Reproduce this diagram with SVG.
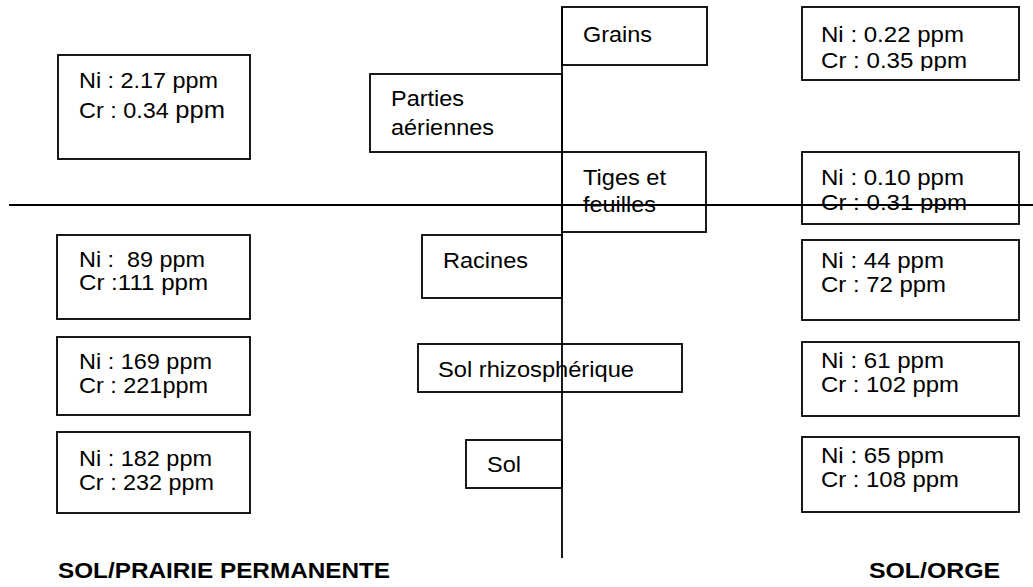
<svg xmlns="http://www.w3.org/2000/svg" width="1033" height="587" viewBox="0 0 1033 587">
<style>
.b{fill:#fff;stroke:#000;stroke-width:1.8}
.t{font-family:"Liberation Sans",Arial,sans-serif;font-size:22.5px;fill:#000}
.h{font-family:"Liberation Sans",Arial,sans-serif;font-size:22px;font-weight:bold;fill:#000}
.ax{stroke:#000;stroke-width:1.8;fill:none}
</style>
<defs>
<clipPath id="c1"><rect x="800" y="0" width="230" height="71"/></clipPath>
<clipPath id="c2"><rect x="800" y="150" width="230" height="63"/></clipPath>
</defs>
<rect width="1033" height="587" fill="#fff"/>
<g id="prairie-parties">
<rect class="b" x="58" y="55" width="192" height="104"/>
<text class="t" x="79" y="88" textLength="139" lengthAdjust="spacingAndGlyphs">Ni : 2.17 ppm</text>
<text class="t" x="79" y="118" textLength="146" lengthAdjust="spacingAndGlyphs">Cr : 0.34 <tspan font-size="24.5">ppm</tspan></text>
</g>
<g id="prairie-racines">
<rect class="b" x="57" y="235" width="193" height="84"/>
<text class="t" x="79" y="267" textLength="126" lengthAdjust="spacingAndGlyphs" xml:space="preserve">Ni :  89 ppm</text>
<text class="t" x="79" y="290" textLength="129" lengthAdjust="spacingAndGlyphs">Cr :111 ppm</text>
</g>
<g id="prairie-rhizo">
<rect class="b" x="57" y="337" width="193" height="78"/>
<text class="t" x="79" y="369" textLength="133" lengthAdjust="spacingAndGlyphs">Ni : 169 ppm</text>
<text class="t" x="79" y="393" textLength="129" lengthAdjust="spacingAndGlyphs">Cr : 221ppm</text>
</g>
<g id="prairie-sol">
<rect class="b" x="57" y="432" width="193" height="81"/>
<text class="t" x="79" y="466" textLength="133" lengthAdjust="spacingAndGlyphs">Ni : 182 ppm</text>
<text class="t" x="79" y="490" textLength="135" lengthAdjust="spacingAndGlyphs">Cr : 232 ppm</text>
</g>
<g id="grains">
<rect class="b" x="562" y="7" width="145" height="58"/>
<text class="t" x="583" y="42" textLength="69" lengthAdjust="spacingAndGlyphs">Grains</text>
</g>
<g id="parties-aeriennes">
<rect class="b" x="370" y="74" width="192" height="78"/>
<text class="t" x="391" y="106" textLength="73" lengthAdjust="spacingAndGlyphs">Parties</text>
<text class="t" x="391" y="135" textLength="103" lengthAdjust="spacingAndGlyphs">aériennes</text>
</g>
<g id="tiges-feuilles">
<rect class="b" x="562" y="152" width="144" height="80"/>
<text class="t" x="583" y="185" textLength="83" lengthAdjust="spacingAndGlyphs">Tiges et</text>
<text class="t" x="583" y="212" textLength="73" lengthAdjust="spacingAndGlyphs">feuilles</text>
</g>
<g id="racines">
<rect class="b" x="422" y="235" width="140" height="63"/>
<text class="t" x="443" y="268" textLength="85" lengthAdjust="spacingAndGlyphs">Racines</text>
</g>
<g id="sol-rhizospherique">
<rect class="b" x="418" y="344" width="264" height="48"/>
<text class="t" x="438" y="377" textLength="196" lengthAdjust="spacingAndGlyphs">Sol rhizosphérique</text>
</g>
<g id="sol">
<rect class="b" x="466" y="440" width="96" height="48"/>
<text class="t" x="487" y="472" textLength="34" lengthAdjust="spacingAndGlyphs">Sol</text>
</g>
<g id="orge-grains">
<rect class="b" x="802" y="7" width="217" height="73"/>
<text class="t" x="821" y="42" textLength="143" lengthAdjust="spacingAndGlyphs">Ni : 0.22 ppm</text>
<text class="t" x="821" y="68" textLength="146" lengthAdjust="spacingAndGlyphs" clip-path="url(#c1)">Cr : 0.35 ppm</text>
</g>
<g id="orge-tiges">
<rect class="b" x="802" y="152" width="217" height="72"/>
<text class="t" x="821" y="185" textLength="143" lengthAdjust="spacingAndGlyphs">Ni : 0.10 ppm</text>
<text class="t" x="821" y="210" textLength="146" lengthAdjust="spacingAndGlyphs" clip-path="url(#c2)">Cr : 0.31 ppm</text>
</g>
<g id="orge-racines">
<rect class="b" x="802" y="240" width="217" height="80"/>
<text class="t" x="821" y="268" textLength="123" lengthAdjust="spacingAndGlyphs">Ni : 44 ppm</text>
<text class="t" x="821" y="292" textLength="125" lengthAdjust="spacingAndGlyphs">Cr : 72 ppm</text>
</g>
<g id="orge-rhizo">
<rect class="b" x="802" y="342" width="217" height="74"/>
<text class="t" x="821" y="368" textLength="123" lengthAdjust="spacingAndGlyphs">Ni : 61 ppm</text>
<text class="t" x="821" y="392" textLength="138" lengthAdjust="spacingAndGlyphs">Cr : 102 ppm</text>
</g>
<g id="orge-sol">
<rect class="b" x="802" y="437" width="217" height="75"/>
<text class="t" x="821" y="463" textLength="123" lengthAdjust="spacingAndGlyphs">Ni : 65 ppm</text>
<text class="t" x="821" y="487" textLength="138" lengthAdjust="spacingAndGlyphs">Cr : 108 ppm</text>
</g>
<g id="titres">
<text class="h" x="58" y="578" textLength="332" lengthAdjust="spacingAndGlyphs">SOL/PRAIRIE PERMANENTE</text>
<text class="h" x="869" y="578" textLength="131" lengthAdjust="spacingAndGlyphs">SOL/ORGE</text>
</g>
<g id="connectors">
<line class="ax" x1="9" y1="205" x2="1033" y2="205"/>
<line class="ax" x1="562" y1="7" x2="562" y2="558"/>
</g>
</svg>
